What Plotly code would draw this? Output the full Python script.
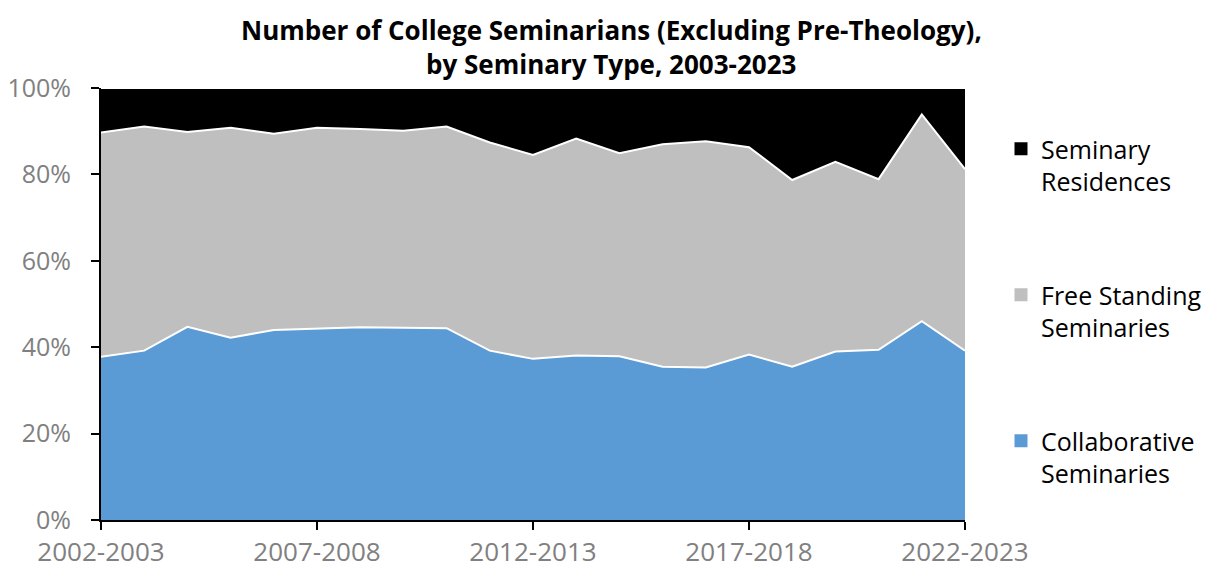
import plotly.graph_objects as go

years = ["2002-2003", "2003-2004", "2004-2005", "2005-2006", "2006-2007", "2007-2008",
         "2008-2009", "2009-2010", "2010-2011", "2011-2012", "2012-2013", "2013-2014",
         "2014-2015", "2015-2016", "2016-2017", "2017-2018", "2018-2019", "2019-2020",
         "2020-2021", "2021-2022", "2022-2023"]

collaborative = [37.8, 39.2, 44.7, 42.2, 44.0, 44.3, 44.6, 44.5, 44.4, 39.2, 37.3,
                 38.1, 37.9, 35.5, 35.3, 38.3, 35.5, 39.0, 39.4, 46.0, 39.2]
free_standing = [51.9, 51.9, 45.1, 48.6, 45.4, 46.5, 45.9, 45.6, 46.7, 48.2, 47.2,
                 50.2, 47.0, 51.5, 52.4, 48.0, 43.2, 43.9, 39.5, 47.9, 42.0]
residences = [10.3, 8.9, 10.2, 9.2, 10.6, 9.2, 9.5, 9.9, 8.9, 12.6, 15.5,
              11.7, 15.1, 13.0, 12.3, 13.7, 21.3, 17.1, 21.1, 6.1, 18.8]

tick_labels = ["2002-2003", "2007-2008", "2012-2013", "2017-2018", "2022-2023"]
y_ticks = [0, 20, 40, 60, 80, 100]

series = [
    ("Collaborative<br>Seminaries", collaborative, "#5B9BD5"),
    ("Free Standing<br>Seminaries", free_standing, "#BFBFBF"),
    ("Seminary<br>Residences", residences, "#000000"),
]

FONT = "Open Sans"
# page offset of the plot div inside the browser (body margin)
OFF = 8
W, H = 1214, 567
ML, MR, MT, MB = 101 - OFF, 249 + OFF, 88 - OFF, 47 + OFF
PH = H - MT - MB
PW = W - ML - MR

fig = go.Figure()
for name, vals, col in series:
    fig.add_trace(go.Scatter(
        x=years, y=vals, name=name, stackgroup="one", mode="lines",
        line=dict(color="white", width=2), fillcolor=col,
        showlegend=False, hoverinfo="x+y+name",
    ))
# legend entries, top to bottom: Residences, Free Standing, Collaborative
for i, (name, vals, col) in enumerate(reversed(series)):
    fig.add_trace(go.Scatter(
        x=[None], y=[None], name=name, mode="markers",
        marker=dict(symbol="square", size=13, color=col),
        legendgroup="g%d" % i, showlegend=True,
    ))

title_lines = ["Number of College Seminarians (Excluding Pre-Theology),",
               "by Seminary Type, 2003-2023"]
for line, yc in zip(title_lines, [30, 64]):
    fig.add_annotation(
        text="<b>%s</b>" % line,
        xref="paper", yref="paper",
        x=(611 - OFF - ML) / PW, y=(H - MB - (yc - OFF)) / PH,
        xanchor="center", yanchor="middle", showarrow=False,
        font=dict(family=FONT, size=26, color="black"),
    )

fig.update_layout(
    width=W, height=H,
    margin=dict(l=ML, r=MR, t=MT, b=MB, autoexpand=False),
    paper_bgcolor="white", plot_bgcolor="white",
    font=dict(family=FONT, color="black"),
    legend=dict(
        xref="container", yref="container",
        x=993 / 1214, y=1 - 118 / 567, xanchor="left", yanchor="top",
        traceorder="grouped", tracegroupgap=78, valign="top",
        font=dict(family=FONT, size=25, color="black"),
        bgcolor="rgba(0,0,0,0)", maxheight=1,
    ),
    xaxis=dict(
        type="category", range=[0, len(years) - 1],
        tickmode="array", tickvals=tick_labels, ticktext=tick_labels,
        showgrid=False, zeroline=False,
        showline=True, linecolor="black", linewidth=2,
        ticks="outside", ticklen=8, tickwidth=2, tickcolor="black",
        tickfont=dict(family=FONT, size=26, color="#808080"),
        ticklabelstandoff=0,
    ),
    yaxis=dict(
        range=[0, 100], tickmode="array", tickvals=y_ticks,
        ticktext=[f"{v}%" for v in y_ticks],
        showgrid=False, zeroline=False,
        showline=True, linecolor="black", linewidth=2,
        ticks="outside", ticklen=8, tickwidth=2, tickcolor="black",
        tickfont=dict(family=FONT, size=25, color="#808080"),
        ticklabelstandoff=15,
    ),
)

fig.write_html("out.html")
